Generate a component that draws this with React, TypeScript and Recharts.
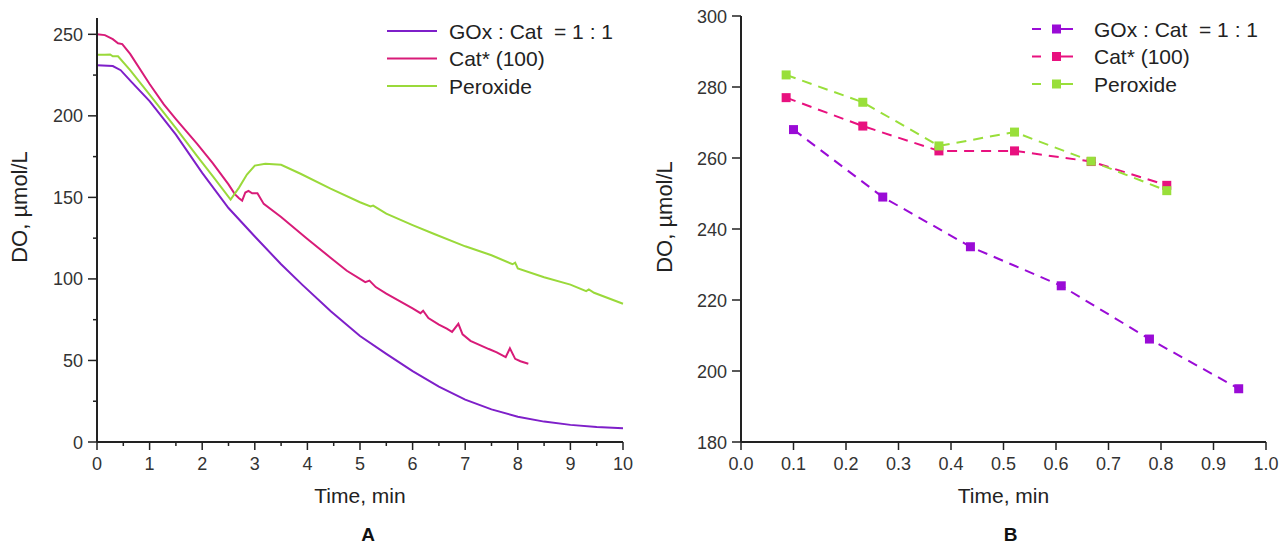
import React from 'react';
import { LineChart, Line, XAxis, YAxis, Label, Legend } from 'recharts';

const FONT = '"Liberation Sans", Arial, sans-serif';
const AXIS = '#222';
const TEXT = '#333';

const SERIES_NAMES = ['GOx : Cat  = 1 : 1', 'Cat* (100)', 'Peroxide'];
const LEFT_COLORS = ['#7E1FC9', '#D81B78', '#9AD93A'];
const RIGHT_COLORS = ['#9A0BD6', '#E8117F', '#99DF3A'];

// panel A: oxygen traces, [time (min), DO (µmol/L)]
const goxTrace: [number, number][] = [
  [0, 231], [0.3, 230.5], [0.45, 228], [0.65, 221], [1.0, 209], [1.5, 188.5],
  [2.0, 165], [2.5, 143.5], [3.0, 126], [3.5, 109], [3.9, 96.5], [4.45, 80],
  [5.0, 65], [5.5, 54], [6.0, 43.5], [6.5, 34], [7.0, 26], [7.5, 20],
  [8.0, 15.5], [8.5, 12.5], [9.0, 10.5], [9.5, 9.2], [10.0, 8.4],
];

const catTrace: [number, number][] = [
  [0, 250], [0.15, 249.5], [0.3, 247], [0.4, 244.5], [0.48, 244], [0.63, 238],
  [1.0, 219.5], [1.27, 207], [1.5, 198], [1.9, 183], [2.2, 171], [2.5, 158],
  [2.62, 152], [2.7, 149.5], [2.76, 148], [2.82, 153], [2.88, 154], [2.95, 152.5],
  [3.05, 152.5], [3.17, 146], [3.5, 138], [4.0, 124.5], [4.44, 113], [4.75, 105],
  [5.1, 98], [5.18, 99], [5.3, 95], [5.5, 91], [6.0, 82], [6.15, 79], [6.2, 80.5],
  [6.3, 76], [6.5, 72], [6.65, 69.5], [6.75, 67.5], [6.87, 72.5], [6.95, 66],
  [7.1, 62], [7.45, 57], [7.6, 55], [7.77, 52], [7.85, 57.5], [7.95, 51],
  [8.05, 49.5], [8.2, 48],
];

const peroxideTrace: [number, number][] = [
  [0, 237.4], [0.15, 237.4], [0.25, 237.6], [0.3, 236.5], [0.4, 236.5], [0.63, 228],
  [1.0, 213], [1.5, 192.5], [1.9, 175.5], [2.2, 163], [2.54, 148.7], [2.7, 156],
  [2.85, 164], [3.0, 169.5], [3.2, 170.6], [3.5, 170], [3.87, 164.5], [4.44, 155.4],
  [5.0, 147], [5.2, 144.5], [5.25, 145], [5.5, 140], [6.0, 133], [6.4, 127.7],
  [7.0, 120], [7.5, 114.5], [7.9, 109], [7.95, 110], [8.0, 106.5], [8.5, 101],
  [9.0, 96.5], [9.3, 92.5], [9.35, 93.5], [9.45, 91.5], [10.0, 84.8],
];

// panel B: sampled points
const goxPoints: [number, number][] = [
  [0.1, 268], [0.27, 249], [0.437, 235], [0.61, 224], [0.778, 209], [0.948, 195],
];
const catPoints: [number, number][] = [
  [0.086, 277], [0.232, 269], [0.377, 262], [0.521, 262], [0.667, 259], [0.811, 252.3],
];
const peroxidePoints: [number, number][] = [
  [0.086, 283.4], [0.232, 275.7], [0.377, 263.4], [0.521, 267.3], [0.667, 259.1], [0.811, 250.8],
];

const leftXTicks = [0, 0.5, 1, 1.5, 2, 2.5, 3, 3.5, 4, 4.5, 5, 5.5, 6, 6.5, 7, 7.5, 8, 8.5, 9, 9.5, 10];
const leftYTicks = [0, 25, 50, 75, 100, 125, 150, 175, 200, 225, 250];
const rightXTicks = [0, 0.1, 0.2, 0.3, 0.4, 0.5, 0.6, 0.7, 0.8, 0.9, 1.0];
const rightYTicks = [180, 200, 220, 240, 260, 280, 300];

const toPoints = (rows: [number, number][]) => rows.map(([t, v]) => ({ t, v }));

const tickText = { fontFamily: FONT, fontSize: 18, fill: TEXT };

function XTick({ x, y, payload, isMajor, format }: any) {
  const major = isMajor(payload.value);
  return (
    <g>
      <line x1={x} x2={x} y1={y} y2={y + (major ? 8 : 4)} stroke={AXIS} strokeWidth={1.5} />
      {major && (
        <text x={x} y={y + 28} textAnchor="middle" style={tickText}>
          {format(payload.value)}
        </text>
      )}
    </g>
  );
}

function YTick({ x, y, payload, isMajor }: any) {
  const major = isMajor(payload.value);
  return (
    <g>
      <line x1={x - (major ? 9 : 4)} x2={x} y1={y} y2={y} stroke={AXIS} strokeWidth={1.5} />
      {major && (
        <text x={x - 14} y={y + 6.5} textAnchor="end" style={tickText}>
          {payload.value}
        </text>
      )}
    </g>
  );
}

const titleStyle = { fontFamily: FONT, fontSize: 21, fill: '#222' };

function xTitle(text: string) {
  return ({ viewBox }: any) => (
    <text x={viewBox.x + viewBox.width / 2} y={viewBox.y + 61} textAnchor="middle" style={titleStyle}>
      {text}
    </text>
  );
}

function panelLetter(letter: string, dx: number) {
  return ({ viewBox }: any) => (
    <text
      x={viewBox.x + viewBox.width / 2 + dx}
      y={viewBox.y + 99}
      textAnchor="middle"
      style={{ fontFamily: FONT, fontSize: 19, fontWeight: 'bold', fill: '#111' }}
    >
      {letter}
    </text>
  );
}

function yTitle(baselineX: number, centerY: number) {
  return ({ viewBox }: any) => {
    const cx = viewBox.x + baselineX;
    const cy = centerY;
    return (
      <text x={cx} y={cy} transform={`rotate(-90 ${cx} ${cy})`} textAnchor="middle" style={{ ...titleStyle, fontSize: 22 }}>
        DO, µmol/L
      </text>
    );
  };
}

const legendText = { fontFamily: FONT, fontSize: 21, fill: '#222', whiteSpace: 'pre' as const };

function SolidLegend() {
  return (
    <svg width={260} height={90}>
      {SERIES_NAMES.map((name, i) => {
        const cy = 17 + i * 27.5;
        return (
          <g key={name}>
            <line x1={7} x2={57} y1={cy} y2={cy} stroke={LEFT_COLORS[i]} strokeWidth={2} />
            <text x={69} y={cy + 7.5} style={legendText} xmlSpace="preserve">{name}</text>
          </g>
        );
      })}
    </svg>
  );
}

function MarkerLegend() {
  return (
    <svg width={260} height={90}>
      {SERIES_NAMES.map((name, i) => {
        const cy = 15 + i * 27.5;
        const c = RIGHT_COLORS[i];
        return (
          <g key={name}>
            <line x1={2} x2={11} y1={cy} y2={cy} stroke={c} strokeWidth={2} />
            <line x1={22} x2={43} y1={cy} y2={cy} stroke={c} strokeWidth={2} />
            <rect x={22} y={cy - 4.5} width={9} height={9} fill={c} />
            <text x={64} y={cy + 7.5} style={legendText} xmlSpace="preserve">{name}</text>
          </g>
        );
      })}
    </svg>
  );
}

function SquareDot({ cx, cy, fill }: any) {
  if (cx == null || cy == null) return null;
  return <rect x={cx - 4.5} y={cy - 4.5} width={9} height={9} fill={fill} />;
}

const intMajor = (v: number) => Number.isInteger(v);
const fiftyMajor = (v: number) => v % 50 === 0;
const always = () => true;

export default function App() {
  const traces = [goxTrace, catTrace, peroxideTrace];
  const points = [goxPoints, catPoints, peroxidePoints];

  return (
    <div style={{ position: 'fixed', left: 0, top: 0, width: 1280, height: 547, background: '#fff' }}>
      <div style={{ position: 'absolute', left: 0, top: 0 }}>
        <LineChart width={640} height={547} margin={{ top: 18, right: 17, bottom: 40, left: 0 }}>
          <XAxis
            type="number"
            dataKey="t"
            domain={[0, 10]}
            ticks={leftXTicks}
            interval={0}
            height={65}
            tickSize={0}
            tickMargin={0}
            tickLine={false}
            axisLine={{ stroke: AXIS, strokeWidth: 2 }}
            tick={<XTick isMajor={intMajor} format={(v: number) => String(v)} />}
            allowDuplicatedCategory={false}
          >
            <Label content={xTitle('Time, min')} />
            <Label content={panelLetter('A', 8)} />
          </XAxis>
          <YAxis
            type="number"
            domain={[0, 260]}
            ticks={leftYTicks}
            interval={0}
            width={97}
            tickSize={0}
            tickMargin={0}
            tickLine={false}
            axisLine={{ stroke: AXIS, strokeWidth: 2 }}
            tick={<YTick isMajor={fiftyMajor} />}
          >
            <Label content={yTitle(27, 207)} />
          </YAxis>
          <Legend
            layout="vertical"
            align="center"
            verticalAlign="middle"
            content={<SolidLegend />}
            wrapperStyle={{ left: 380, top: 14, width: 260 }}
          />
          {traces.map((rows, i) => (
            <Line
              key={SERIES_NAMES[i]}
              name={SERIES_NAMES[i]}
              data={toPoints(rows)}
              dataKey="v"
              type="linear"
              stroke={LEFT_COLORS[i]}
              strokeWidth={2}
              dot={false}
              activeDot={false}
              isAnimationActive={false}
            />
          ))}
        </LineChart>
      </div>

      <div style={{ position: 'absolute', left: 640, top: 0 }}>
        <LineChart width={640} height={547} margin={{ top: 16, right: 14, bottom: 40, left: 0 }}>
          <XAxis
            type="number"
            dataKey="t"
            domain={[0, 1]}
            ticks={rightXTicks}
            interval={0}
            height={65}
            tickSize={0}
            tickMargin={0}
            tickLine={false}
            axisLine={{ stroke: AXIS, strokeWidth: 2 }}
            tick={<XTick isMajor={always} format={(v: number) => v.toFixed(1)} />}
            allowDuplicatedCategory={false}
          >
            <Label content={xTitle('Time, min')} />
            <Label content={panelLetter('B', 7)} />
          </XAxis>
          <YAxis
            type="number"
            domain={[180, 300]}
            ticks={rightYTicks}
            interval={0}
            width={101}
            tickSize={0}
            tickMargin={0}
            tickLine={false}
            axisLine={{ stroke: AXIS, strokeWidth: 2 }}
            tick={<YTick isMajor={always} />}
          >
            <Label content={yTitle(32, 217)} />
          </YAxis>
          <Legend
            layout="vertical"
            align="center"
            verticalAlign="middle"
            content={<MarkerLegend />}
            wrapperStyle={{ left: 390, top: 14, width: 260 }}
          />
          {points.map((rows, i) => (
            <Line
              key={SERIES_NAMES[i]}
              name={SERIES_NAMES[i]}
              data={toPoints(rows)}
              dataKey="v"
              type="linear"
              stroke={RIGHT_COLORS[i]}
              strokeWidth={2}
              strokeDasharray="10 7"
              dot={<SquareDot fill={RIGHT_COLORS[i]} />}
              activeDot={false}
              isAnimationActive={false}
            />
          ))}
        </LineChart>
      </div>
    </div>
  );
}
